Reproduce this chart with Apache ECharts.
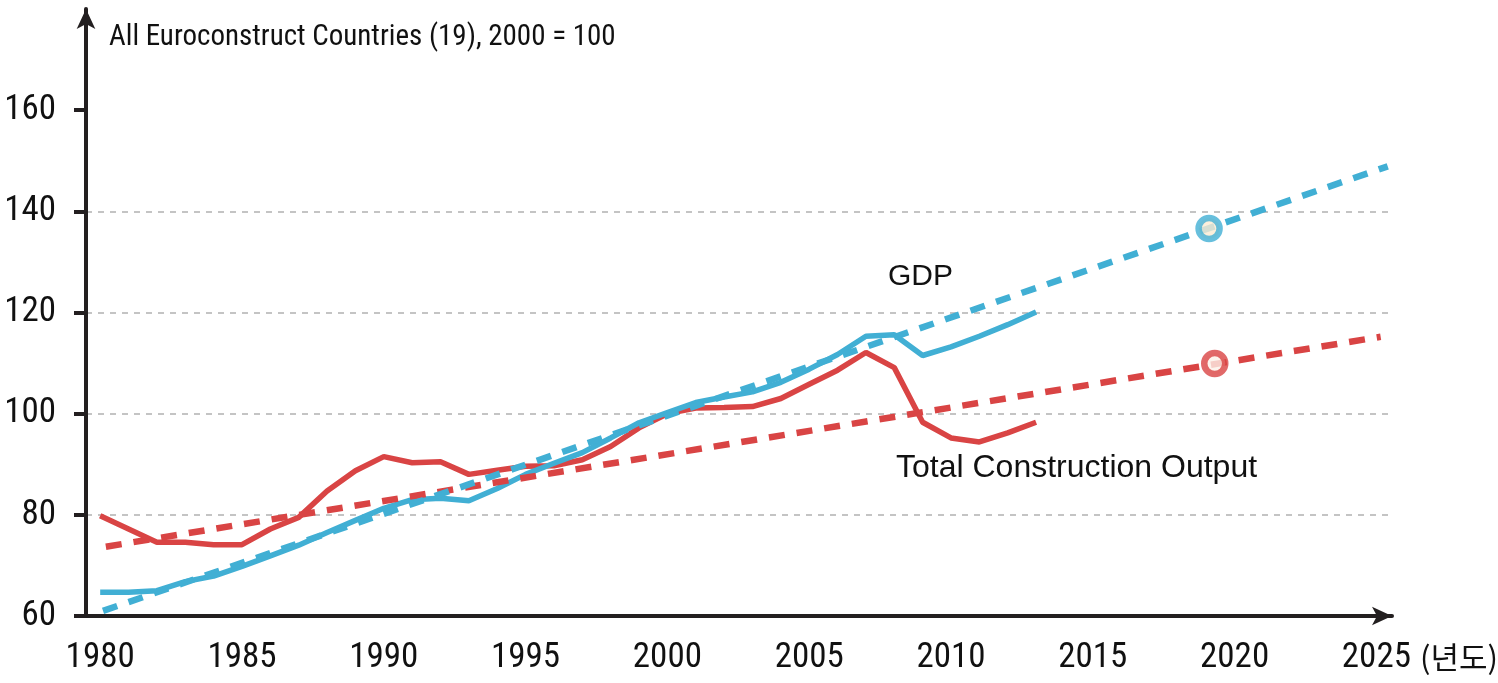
<!DOCTYPE html>
<html>
<head>
<meta charset="utf-8">
<script src="https://cdn.jsdelivr.net/npm/echarts@6/dist/echarts.min.js"></script>
<style>
html,body{margin:0;padding:0;background:#fff;}
#chart{width:1498px;height:683px;}
</style>
</head>
<body>
<div id="chart"></div>
<script>
// ---- data ----
const years = [1980,1981,1982,1983,1984,1985,1986,1987,1988,1989,1990,1991,1992,1993,1994,1995,1996,1997,1998,1999,2000,2001,2002,2003,2004,2005,2006,2007,2008,2009,2010,2011,2012,2013];
const gdp = [64.7,64.7,65.0,66.8,67.9,69.8,71.9,74.0,76.5,78.9,81.3,83.0,83.3,82.8,85.2,88.0,90.2,92.3,95.2,98.2,100.2,102.2,103.3,104.3,106.2,108.8,111.7,115.3,115.6,111.5,113.2,115.3,117.6,120.1];
const construction = [79.8,77.2,74.6,74.6,74.1,74.1,77.2,79.5,84.7,88.7,91.5,90.3,90.5,88.0,88.8,89.6,89.7,90.9,93.5,97.2,100.0,101.1,101.2,101.4,103.0,105.8,108.6,112.1,109.1,98.3,95.2,94.4,96.2,98.3];
const gdpTrendYears = [1980.1, 2025.4];
const gdpTrendValues = [61.0, 148.9];
const conTrendYears = [1980.2, 2025.15];
const conTrendValues = [73.7, 115.2];
const forecastYears = [2019.1, 2019.3];
const forecastValues = [136.6, 109.9];
const xTickLabels = [1980,1985,1990,1995,2000,2005,2010,2015,2020,2025];
const yTickLabels = [60,80,100,120,140,160];
const labelGDP = 'GDP';
const labelCon = 'Total Construction Output';
const titleText = 'All Euroconstruct Countries (19), 2000 = 100';
const unitText = '(년도)';

const BLUE = '#41afd4';
const RED = '#d94444';
const AXIS = '#231f20';
const NARROW = '"Liberation Sans Narrow","Roboto Condensed","DejaVu Sans Condensed",sans-serif';

const pair = (xs, vs) => xs.map((x, i) => [x, vs[i]]);

const chart = echarts.init(document.getElementById('chart'), null, {renderer: 'canvas'});
chart.setOption({
  animation: false,
  backgroundColor: '#ffffff',
  grid: {left: 86, right: 106, top: 9, bottom: 67, containLabel: false},
  xAxis: {
    type: 'value', min: 1979.5, max: 2025.55,
    axisLine: {show: true, lineStyle: {color: AXIS, width: 4}, symbol: ['none', 'arrow'], symbolSize: [14, 20]},
    axisTick: {show: false},
    splitLine: {show: false},
    axisLabel: {
      customValues: xTickLabels, color: '#111', fontFamily: NARROW, fontSize: 35, margin: 25,
      formatter: v => String(Math.round(v))
    }
  },
  yAxis: {
    type: 'value', min: 60, max: 180, interval: 20,
    axisLine: {show: true, lineStyle: {color: AXIS, width: 4}, symbol: ['none', 'arrow'], symbolSize: [14, 20]},
    axisTick: {show: true, customValues: yTickLabels, length: 12, lineStyle: {color: AXIS, width: 4}},
    axisLabel: {customValues: yTickLabels, color: '#111', fontFamily: NARROW, fontSize: 35, margin: 30},
    splitLine: {show: true, showMinLine: false, showMaxLine: false, lineStyle: {color: '#c4c4c4', width: 2, type: [6, 6]}}
  },
  series: [
    {type: 'line', name: 'Construction', data: pair(years, construction), symbol: 'none', lineStyle: {color: RED, width: 5.5}, z: 3},
    {type: 'line', name: 'GDP', data: pair(years, gdp), symbol: 'none', lineStyle: {color: BLUE, width: 5.5}, z: 4},
    {type: 'line', name: 'Construction trend', data: pair(conTrendYears, conTrendValues), symbol: 'none', lineStyle: {color: RED, width: 6.5, type: [16, 12]}, z: 5},
    {type: 'line', name: 'GDP trend', data: pair(gdpTrendYears, gdpTrendValues), symbol: 'none', lineStyle: {color: BLUE, width: 6.5, type: [15, 12]}, z: 6},
    {type: 'scatter', name: 'Forecast', data: pair(forecastYears, forecastValues).map((d, i) => ({
        value: d,
        itemStyle: {color: i === 0 ? '#fbebd2' : '#fdf1e8', borderColor: i === 0 ? BLUE : RED, borderWidth: 6.5}
      })), symbol: 'circle', symbolSize: 21, z: 10}
  ],
  graphic: [
    {type: 'text', left: 109, top: 23, style: {text: titleText, font: '29px ' + NARROW, fill: '#111'}},
    {type: 'text', left: 888, top: 262, style: {text: labelGDP, font: '30px "Liberation Sans",Arial,sans-serif', fill: '#111'}},
    {type: 'text', left: 896, top: 452, style: {text: labelCon, font: '32px "Liberation Sans",Arial,sans-serif', fill: '#111'}},
    {type: 'text', left: 1420, top: 642, style: {text: unitText, font: '31px "Noto Sans CJK KR",sans-serif', fill: '#111'}}
  ]
});
</script>
</body>
</html>
